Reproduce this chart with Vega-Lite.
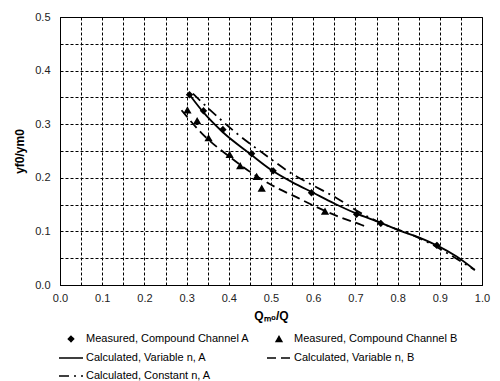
{
  "$schema": "https://vega.github.io/schema/vega-lite/v6.json",
  "width": 422,
  "height": 268,
  "autosize": "none",
  "padding": {"left": 60, "top": 17, "right": 18, "bottom": 96},
  "background": "white",
  "config": {
    "font": "Liberation Sans",
    "view": {"stroke": "black", "strokeWidth": 1},
    "axis": {
      "grid": true, "gridColor": "black", "gridDash": [3, 2], "gridOpacity": 1, "gridWidth": 1,
      "domainColor": "black", "ticks": false,
      "labelFont": "Liberation Sans", "labelFontSize": 11, "labelColor": "#222",
      "titleFont": "Liberation Sans", "titleFontSize": 12, "titleFontWeight": "bold", "titleColor": "black"
    }
  },
  "data": {"values": [
    {"series": "Measured, Compound Channel A", "x": 0.307, "y": 0.355},
    {"series": "Measured, Compound Channel A", "x": 0.340, "y": 0.325},
    {"series": "Measured, Compound Channel A", "x": 0.386, "y": 0.290},
    {"series": "Measured, Compound Channel A", "x": 0.454, "y": 0.245},
    {"series": "Measured, Compound Channel A", "x": 0.505, "y": 0.213},
    {"series": "Measured, Compound Channel A", "x": 0.596, "y": 0.172},
    {"series": "Measured, Compound Channel A", "x": 0.703, "y": 0.132},
    {"series": "Measured, Compound Channel A", "x": 0.760, "y": 0.115},
    {"series": "Measured, Compound Channel A", "x": 0.893, "y": 0.074},
    {"series": "Measured, Compound Channel B", "x": 0.302, "y": 0.326},
    {"series": "Measured, Compound Channel B", "x": 0.325, "y": 0.306},
    {"series": "Measured, Compound Channel B", "x": 0.352, "y": 0.274},
    {"series": "Measured, Compound Channel B", "x": 0.402, "y": 0.243},
    {"series": "Measured, Compound Channel B", "x": 0.427, "y": 0.222},
    {"series": "Measured, Compound Channel B", "x": 0.466, "y": 0.202},
    {"series": "Measured, Compound Channel B", "x": 0.478, "y": 0.180},
    {"series": "Measured, Compound Channel B", "x": 0.628, "y": 0.137},
    {"series": "Calculated, Variable n, A", "x": 0.307, "y": 0.355},
    {"series": "Calculated, Variable n, A", "x": 0.340, "y": 0.322},
    {"series": "Calculated, Variable n, A", "x": 0.386, "y": 0.285},
    {"series": "Calculated, Variable n, A", "x": 0.450, "y": 0.245},
    {"series": "Calculated, Variable n, A", "x": 0.500, "y": 0.215},
    {"series": "Calculated, Variable n, A", "x": 0.550, "y": 0.192},
    {"series": "Calculated, Variable n, A", "x": 0.600, "y": 0.172},
    {"series": "Calculated, Variable n, A", "x": 0.650, "y": 0.152},
    {"series": "Calculated, Variable n, A", "x": 0.700, "y": 0.134},
    {"series": "Calculated, Variable n, A", "x": 0.760, "y": 0.116},
    {"series": "Calculated, Variable n, A", "x": 0.800, "y": 0.103},
    {"series": "Calculated, Variable n, A", "x": 0.850, "y": 0.089},
    {"series": "Calculated, Variable n, A", "x": 0.893, "y": 0.074},
    {"series": "Calculated, Variable n, A", "x": 0.940, "y": 0.053},
    {"series": "Calculated, Variable n, A", "x": 0.983, "y": 0.028},
    {"series": "Calculated, Variable n, B", "x": 0.288, "y": 0.326},
    {"series": "Calculated, Variable n, B", "x": 0.336, "y": 0.283},
    {"series": "Calculated, Variable n, B", "x": 0.407, "y": 0.236},
    {"series": "Calculated, Variable n, B", "x": 0.438, "y": 0.218},
    {"series": "Calculated, Variable n, B", "x": 0.474, "y": 0.199},
    {"series": "Calculated, Variable n, B", "x": 0.517, "y": 0.180},
    {"series": "Calculated, Variable n, B", "x": 0.565, "y": 0.162},
    {"series": "Calculated, Variable n, B", "x": 0.604, "y": 0.147},
    {"series": "Calculated, Variable n, B", "x": 0.668, "y": 0.125},
    {"series": "Calculated, Variable n, B", "x": 0.715, "y": 0.112},
    {"series": "Calculated, Variable n, B", "x": 0.730, "y": 0.107},
    {"series": "Calculated, Constant n, A", "x": 0.315, "y": 0.357},
    {"series": "Calculated, Constant n, A", "x": 0.351, "y": 0.330},
    {"series": "Calculated, Constant n, A", "x": 0.417, "y": 0.284},
    {"series": "Calculated, Constant n, A", "x": 0.486, "y": 0.243},
    {"series": "Calculated, Constant n, A", "x": 0.549, "y": 0.208},
    {"series": "Calculated, Constant n, A", "x": 0.585, "y": 0.192},
    {"series": "Calculated, Constant n, A", "x": 0.656, "y": 0.162},
    {"series": "Calculated, Constant n, A", "x": 0.711, "y": 0.135},
    {"series": "Calculated, Constant n, A", "x": 0.760, "y": 0.116},
    {"series": "Calculated, Constant n, A", "x": 0.850, "y": 0.088},
    {"series": "Calculated, Constant n, A", "x": 0.983, "y": 0.028}
  ]},
  "encoding": {
    "x": {"field": "x", "type": "quantitative",
      "scale": {"domain": [0, 1], "nice": false, "zero": false},
      "axis": {"title": "Qₘ₀/Q", "values": [0,0.05,0.1,0.15,0.2,0.25,0.3,0.35,0.4,0.45,0.5,0.55,0.6,0.65,0.7,0.75,0.8,0.85,0.9,0.95,1.0],
        "labelExpr": "round(datum.value*100)%10==0 ? format(datum.value,'.1f') : ''",
        "labelPadding": 7, "titlePadding": 7, "labelFlush": false}},
    "y": {"field": "y", "type": "quantitative",
      "scale": {"domain": [0, 0.5], "nice": false, "zero": false},
      "axis": {"title": "yf0/ym0", "values": [0,0.05,0.1,0.15,0.2,0.25,0.3,0.35,0.4,0.45,0.5],
        "labelExpr": "round(datum.value*100)%10==0 ? format(datum.value,'.1f') : ''",
        "labelPadding": 10, "titlePadding": 8, "labelFlush": false}}
  },
  "layer": [
    {
      "transform": [{"filter": "datum.series == 'Calculated, Variable n, A'"}],
      "mark": {"type": "line", "color": "black", "strokeWidth": 1.8, "interpolate": "monotone"},
      "encoding": {}
    },
    {
      "transform": [{"filter": "datum.series == 'Calculated, Variable n, B'"}],
      "mark": {"type": "line", "color": "black", "strokeWidth": 1.8, "interpolate": "monotone", "strokeDash": [9, 5]},
      "encoding": {}
    },
    {
      "transform": [{"filter": "datum.series == 'Calculated, Constant n, A'"}],
      "mark": {"type": "line", "color": "black", "strokeWidth": 1.8, "interpolate": "monotone", "strokeDash": [10, 5, 2, 5]},
      "encoding": {}
    },
    {
      "mark": {"type": "point", "filled": true, "fill": "black", "stroke": "black", "strokeWidth": 1.5, "opacity": 1},
      "encoding": {
        "shape": {"field": "series", "type": "nominal",
          "scale": {"domain": ["Measured, Compound Channel A", "Measured, Compound Channel B", "Calculated, Variable n, A", "Calculated, Variable n, B", "Calculated, Constant n, A"],
                    "range": ["diamond", "triangle-up", "stroke", "stroke", "stroke"]},
          "legend": {
            "title": null, "orient": "none", "legendX": -2, "legendY": 316,
            "direction": "horizontal", "columns": 2, "columnPadding": 14, "rowPadding": -20,
            "labelFont": "Liberation Sans", "labelFontSize": 11, "labelColor": "black",
            "labelOffset": 2, "labelLimit": 300
          }},
        "strokeDash": {"field": "series", "type": "nominal",
          "scale": {"domain": ["Measured, Compound Channel A", "Measured, Compound Channel B", "Calculated, Variable n, A", "Calculated, Variable n, B", "Calculated, Constant n, A"],
                    "range": [[1, 0], [1, 0], [1, 0], [9, 5], [10, 5, 2, 5]]},
          "legend": {
            "title": null, "orient": "none", "legendX": -2, "legendY": 316,
            "direction": "horizontal", "columns": 2, "columnPadding": 14, "rowPadding": -20,
            "labelFont": "Liberation Sans", "labelFontSize": 11, "labelColor": "black",
            "labelOffset": 2, "labelLimit": 300
          }},
        "size": {"field": "series", "type": "ordinal",
          "scale": {"type": "ordinal", "domain": ["Measured, Compound Channel A", "Measured, Compound Channel B", "Calculated, Variable n, A", "Calculated, Variable n, B", "Calculated, Constant n, A"],
                    "range": [28, 32, 576, 576, 576]},
          "legend": {
            "title": null, "orient": "none", "legendX": -2, "legendY": 316,
            "direction": "horizontal", "columns": 2, "columnPadding": 14, "rowPadding": -20,
            "labelFont": "Liberation Sans", "labelFontSize": 11, "labelColor": "black",
            "labelOffset": 2, "labelLimit": 300
          }},
        "opacity": {"condition": {"test": "indexof(datum.series, 'Measured') >= 0", "value": 1}, "value": 0, "legend": null}
      }
    }
  ]
}
